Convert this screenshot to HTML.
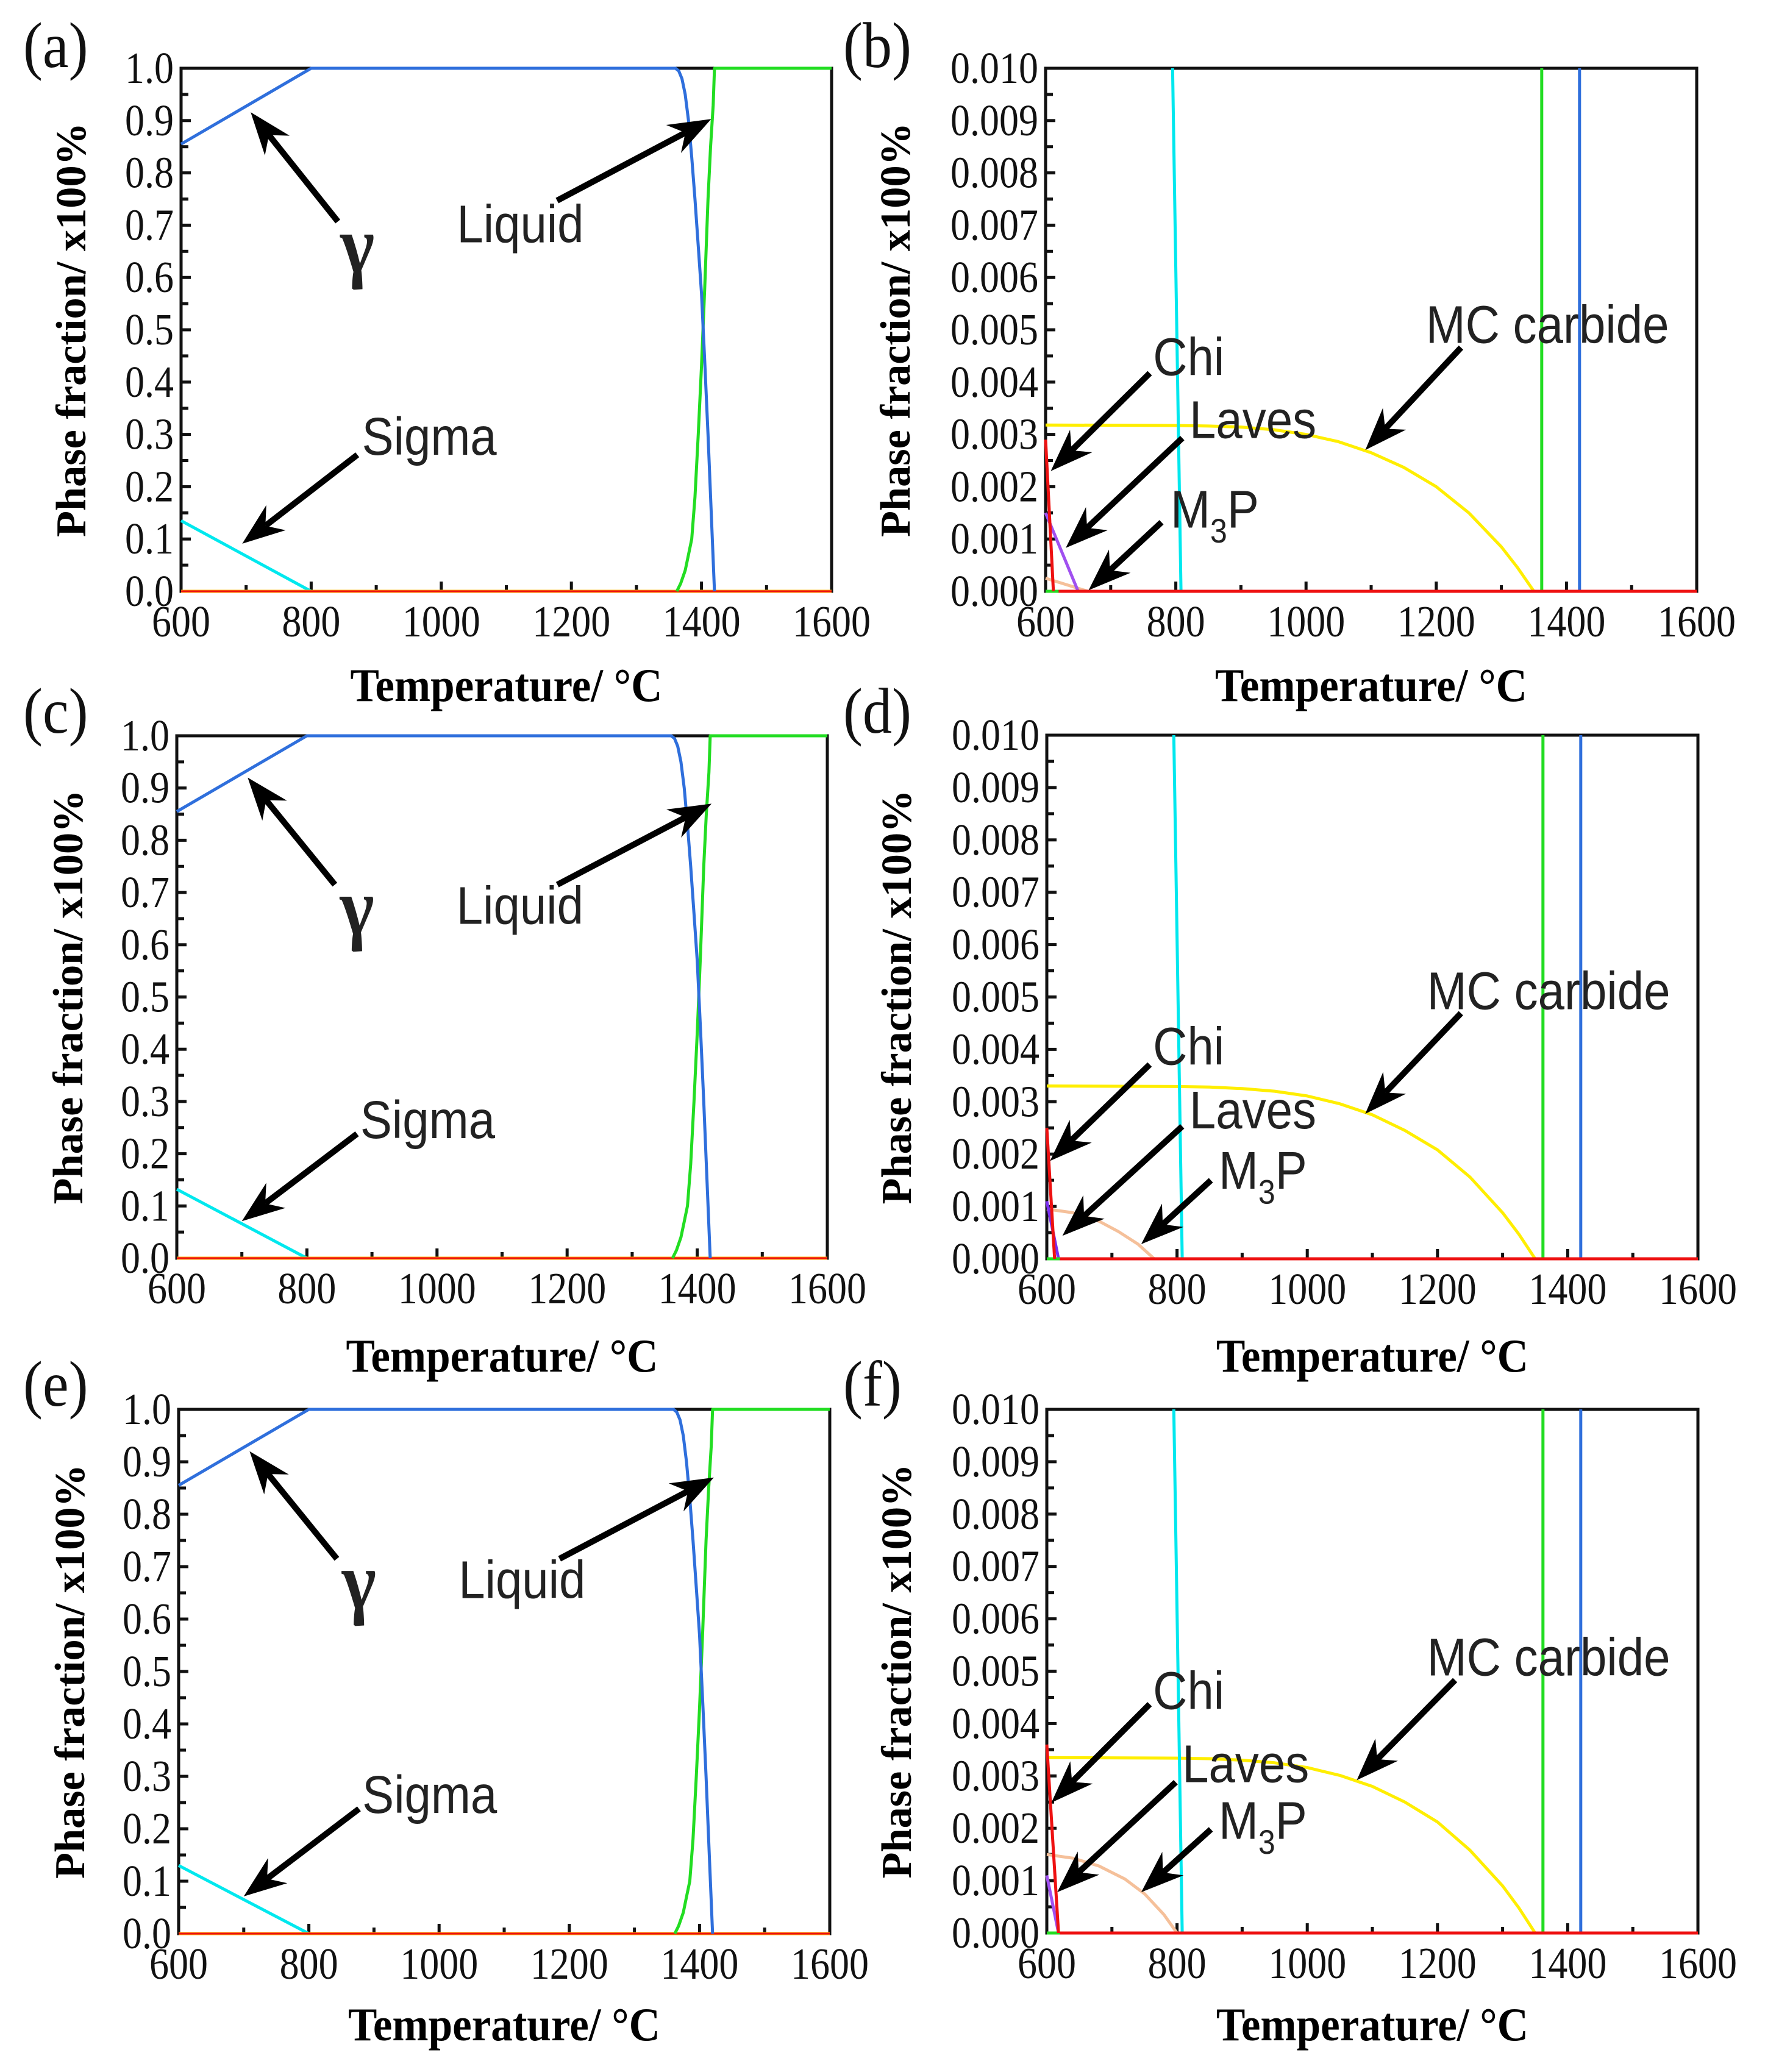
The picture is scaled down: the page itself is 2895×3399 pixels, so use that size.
<!DOCTYPE html>
<html><head><meta charset="utf-8">
<style>
html,body{margin:0;padding:0;background:#fff;}
svg{display:block;}
.tick{font-family:"Liberation Serif",serif;font-size:64px;fill:#111;}
.title{font-family:"Liberation Serif",serif;font-size:70px;font-weight:bold;fill:#000;}
.plabel{font-family:"Liberation Serif",serif;font-size:96px;fill:#111;}
.ann{font-family:"Liberation Sans",sans-serif;font-size:78px;fill:#222;}
.gam{font-family:"Liberation Serif",serif;font-size:120px;font-weight:bold;fill:#222;}
.sub{font-family:"Liberation Sans",sans-serif;font-size:50px;fill:#222;}
</style></head>
<body>
<svg id="fig" width="2895" height="3399" viewBox="0 0 2895 3399" xmlns="http://www.w3.org/2000/svg"></svg>
<script>
// ---- shared data ----
const xTicks = [600, 800, 1000, 1200, 1400, 1600];
const yTicksMajor = [0.0,0.1,0.2,0.3,0.4,0.5,0.6,0.7,0.8,0.9,1.0];
const yTickLabelsMajor = ["0.0","0.1","0.2","0.3","0.4","0.5","0.6","0.7","0.8","0.9","1.0"];
const yTicksMinor = [0,0.001,0.002,0.003,0.004,0.005,0.006,0.007,0.008,0.009,0.010];
const yTickLabelsMinor = ["0.000","0.001","0.002","0.003","0.004","0.005","0.006","0.007","0.008","0.009","0.010"];

// ---- panel a/c/e (major phases) ----
const gammaT = [600, 800, 1360, 1365, 1370, 1375, 1380, 1385, 1390, 1395, 1400, 1405, 1410, 1415, 1420];
const gammaV = [0.855, 1.0, 1.0, 0.995, 0.98, 0.95, 0.9, 0.83, 0.75, 0.66, 0.57, 0.44, 0.3, 0.15, 0.0];
const liquidT = [1362, 1368, 1375, 1380, 1385, 1390, 1395, 1400, 1405, 1410, 1414, 1418, 1420, 1600];
const liquidV = [0.0, 0.015, 0.04, 0.07, 0.1, 0.18, 0.3, 0.43, 0.58, 0.75, 0.85, 0.93, 1.0, 1.0];
const sigmaT = [600, 800];
const sigmaVa = [0.135, 0.0];
const sigmaVc = [0.132, 0.0];
const sigmaVe = [0.130, 0.0];
const zeroT = [600, 1600];
const zeroV = [0.0, 0.0];

// ---- panel b/d/f (minor phases) ----
const cyanT = [795, 808];
const cyanV = [0.010, 0.0];
const liqVertT = [1362, 1362];
const liqVertV = [0.010, 0.0];
const gamVertT = [1420, 1420];
const gamVertV = [0.010, 0.0];
const mcT = [600, 800, 850, 900, 950, 1000, 1050, 1100, 1150, 1200, 1250, 1300, 1325, 1350];
const mcVb = [0.00318, 0.00317, 0.00316, 0.00314, 0.00309, 0.00300, 0.00286, 0.00265, 0.00237, 0.00200, 0.00150, 0.00085, 0.00045, 0.0];
const mcVd = [0.00330, 0.00329, 0.00328, 0.00325, 0.00320, 0.00311, 0.00296, 0.00275, 0.00245, 0.00208, 0.00156, 0.00088, 0.00047, 0.0];
const mcVf = [0.00335, 0.00334, 0.00333, 0.00330, 0.00325, 0.00316, 0.00301, 0.00280, 0.00250, 0.00212, 0.00158, 0.00090, 0.00048, 0.0];
const chiTb = [600, 612]; const chiVb = [0.0029, 0.0];
const chiTd = [600, 612]; const chiVd = [0.0025, 0.0];
const chiTf = [600, 618]; const chiVf = [0.0036, 0.0];
const lavesTb = [600, 650]; const lavesVb = [0.0015, 0.0];
const lavesTd = [600, 618]; const lavesVd = [0.0011, 0.0];
const lavesTf = [600, 618]; const lavesVf = [0.0011, 0.0];
const m3pTb = [600, 665]; const m3pVb = [0.00025, 0.0];
const m3pTd = [600, 640, 680, 710, 740, 765]; const m3pVd = [0.00095, 0.00088, 0.00072, 0.00052, 0.00028, 0.0];
const m3pTf = [600, 640, 680, 720, 750, 780, 800]; const m3pVf = [0.0015, 0.00143, 0.00128, 0.00103, 0.00075, 0.00035, 0.0];

const NS = "http://www.w3.org/2000/svg";
const svg = document.getElementById('fig');
function mk(tag, attrs, parent){ const e=document.createElementNS(NS,tag); for(const k in attrs) e.setAttribute(k,attrs[k]); (parent||svg).appendChild(e); return e; }
function stext(parent, x, y, sy, cls, anchor){
  return mk('text',{x:0,y:0,class:cls,'text-anchor':anchor||'start',transform:'translate('+x+' '+y+') scale(1 '+sy+')'},parent);
}

function panel(p){
  const g = mk('g',{});
  
  
  const X = t => p.L + (t-600)/1000*(p.R-p.L);
  const Y = v => p.B - v/p.ymax*(p.B-p.T);
  const fr = mk('rect',{x:p.L,y:p.T,width:p.R-p.L,height:p.B-p.T,fill:'none',stroke:'#111','stroke-width':5},g);
  
  
  for(let t=600;t<=1600;t+=100){
    const len = (t%200===0)?16:10;
    mk('line',{x1:X(t),x2:X(t),y1:p.B,y2:p.B-len,stroke:'#111','stroke-width':5},g);
  }
  const yt = p.ymax===1 ? yTicksMajor : yTicksMinor;
  const yl = p.ymax===1 ? yTickLabelsMajor : yTickLabelsMinor;
  const step = yt[1]-yt[0];
  for(let i=0;i<yt.length*2-1;i++){
    const v = i*step/2;
    mk('line',{x1:p.L,x2:p.L+(i%2?12:16),y1:Y(v),y2:Y(v),stroke:'#111','stroke-width':5},g);
  }
  p.series.forEach(s=>{
    const pts = s.t.map((t,i)=>X(t).toFixed(1)+','+Y(s.v[i]).toFixed(1)).join(' ');
    const pl = mk('polyline',{points:pts,fill:'none',stroke:s.c,'stroke-width':s.w||5,'stroke-linejoin':'round'},g);
    
    
  });
  xTicks.forEach(t=>{
    const tx = stext(g, X(t), p.B+74, 1.15, 'tick', 'middle');
    tx.textContent = t;
    
    
  });
  yt.forEach((v,i)=>{
    const tx = stext(g, p.L-12, Y(v)+24, 1.15, 'tick', 'end');
    tx.textContent = yl[i];
    
    
  });
  const xt = stext(g, (p.L+p.R)/2, p.xtY, 1.1, 'title', 'middle');
  xt.setAttribute('textLength', 512);
  xt.setAttribute('lengthAdjust', 'spacingAndGlyphs');
  xt.textContent = 'Temperature/ \u00B0C';
  
  
  const cy=(p.T+p.B)/2;
  const ytl = mk('text',{x:0,y:0,'text-anchor':'middle',class:'title',textLength:680,lengthAdjust:'spacingAndGlyphs',
     transform:'translate('+p.ytX+' '+cy+') rotate(-90)'},g);
  ytl.textContent = 'Phase fraction/ x100%';
  
  
  const pl = stext(g, p.plX, p.plY, 1.1, 'plabel');
  pl.textContent = '('+p.id+')';
  
  
  p.ann.forEach(a=>{
    const x1=X(a.t1),y1=Y(a.v1),x2=X(a.t2),y2=Y(a.v2);
    const dx=x2-x1,dy=y2-y1,d=Math.hypot(dx,dy),ux=dx/d,uy=dy/d,nx=-uy,ny=ux;
    const hl=70,hw=26,notch=22;
    const bx=x2-ux*hl,by=y2-uy*hl;
    const ag = mk('g',{},g);
    
    
    mk('line',{x1:x1,y1:y1,x2:x2-ux*(hl-notch),y2:y2-uy*(hl-notch),stroke:'#000','stroke-width':10},ag);
    const pts=[[x2,y2],[bx+nx*hw,by+ny*hw],[x2-ux*(hl-notch),y2-uy*(hl-notch)],[bx-nx*hw,by-ny*hw]];
    mk('polygon',{points:pts.map(q=>q[0].toFixed(1)+','+q[1].toFixed(1)).join(' '),fill:'#000'},ag);
    const lt = stext(g, X(a.lt), Y(a.lv), 1.12, a.cls||'ann', a.anchor||'start');
    
    
    if(a.sub){
      lt.appendChild(document.createTextNode('M'));
      const ts=mk('tspan',{class:'sub',dy:22},lt); ts.textContent='3';
      const tp=mk('tspan',{dy:-22},lt); tp.textContent='P';
    } else lt.textContent=a.text;
  });
}

const BLUE='#2f6fdc', GREEN='#22dd22', CYAN='#00e8ee', YEL='#ffee00', RED='#ee1111', PUR='#a050f0', PEACH='#f5c09a';
function majorSeries(sv){
  return [
    {name:'sigma-line',t:sigmaT,v:sv,c:CYAN},
    {name:'zero-orange-line',t:zeroT,v:zeroV,c:'#ffaa00'},
    {name:'zero-red-line',t:zeroT,v:zeroV,c:RED,w:3},
    {name:'liquid-line',t:liquidT,v:liquidV,c:GREEN},
    {name:'gamma-line',t:gammaT,v:gammaV,c:BLUE},
  ];
}
function minorSeries(mc,cT,cV,lT,lV,mT,mV,lavC){
  return [
    {name:'m3p-line',t:mT,v:mV,c:PEACH},
    {name:'mc-carbide-line',t:mcT,v:mc,c:YEL},
    {name:'sigma-line',t:cyanT,v:cyanV,c:CYAN},
    {name:'liquid-line',t:liqVertT,v:liqVertV,c:GREEN},
    {name:'gamma-line',t:gamVertT,v:gamVertV,c:BLUE},
    {name:'laves-line',t:lT,v:lV,c:lavC},
    {name:'zero-green-line',t:[600,620],v:zeroV,c:GREEN},
    {name:'chi-line',t:cT,v:cV,c:RED},
    {name:'zero-red-line',t:[620,1600],v:zeroV,c:RED},
  ];
}
const annMajor1=[
  {name:'gamma',t1:841,v1:0.707,t2:707,v2:0.916,lt:871,lv:0.61,text:'\u03B3',anchor:'middle',cls:'gam'},
  {name:'liquid',t1:1178,v1:0.747,t2:1415,v2:0.903,lt:1024,lv:0.667,text:'Liquid'},
  {name:'sigma',t1:871,v1:0.261,t2:694,v2:0.091,lt:878,lv:0.261,text:'Sigma'},
];
const annMajor2=[
  {name:'gamma',t1:843,v1:0.715,t2:709,v2:0.92,lt:877,lv:0.62,text:'\u03B3',anchor:'middle',cls:'gam'},
  {name:'liquid',t1:1185,v1:0.715,t2:1422,v2:0.87,lt:1030,lv:0.64,text:'Liquid'},
  {name:'sigma',t1:877,v1:0.238,t2:700,v2:0.071,lt:882,lv:0.23,text:'Sigma'},
];
panel({id:'a',L:297,R:1364,T:112,B:970,ymax:1,xtY:1150,ytX:140,plX:38,plY:110,series:majorSeries(sigmaVa),ann:annMajor1});
panel({id:'c',L:290,R:1357,T:1207,B:2064,ymax:1,xtY:2250,ytX:135,plX:38,plY:1202,series:majorSeries(sigmaVc),ann:annMajor2});
panel({id:'e',L:293,R:1361,T:2312,B:3172,ymax:1,xtY:3347,ytX:138,plX:38,plY:2306,series:majorSeries(sigmaVe),ann:annMajor2});
panel({id:'b',L:1715,R:2783,T:112,B:970,ymax:0.01,xtY:1150,ytX:1492,plX:1383,plY:110,
  series:minorSeries(mcVb,chiTb,chiVb,lavesTb,lavesVb,m3pTb,m3pVb,PUR),
  ann:[
    {name:'chi',t1:760,v1:0.00417,t2:608,v2:0.0023,lt:765,lv:0.00413,text:'Chi'},
    {name:'laves',t1:810,v1:0.00293,t2:631,v2:0.00083,lt:821,lv:0.00293,text:'Laves'},
    {name:'m3p',t1:778,v1:0.00132,t2:666,v2:0.00002,lt:792,lv:0.00122,sub:true},
    {name:'mc-carbide',t1:1238,v1:0.00466,t2:1091,v2:0.0027,lt:1184,lv:0.00475,text:'MC carbide'},
  ]});
panel({id:'d',L:1717,R:2785,T:1206,B:2065,ymax:0.01,xtY:2250,ytX:1494,plX:1383,plY:1202,
  series:minorSeries(mcVd,chiTd,chiVd,lavesTd,lavesVd,m3pTd,m3pVd,'#7a2ef0'),
  ann:[
    {name:'chi',t1:758,v1:0.00371,t2:605,v2:0.00187,lt:763,lv:0.00371,text:'Chi'},
    {name:'laves',t1:808,v1:0.00253,t2:624,v2:0.00044,lt:819,lv:0.00249,text:'Laves'},
    {name:'m3p',t1:852,v1:0.0015,t2:745,v2:0.00028,lt:864,lv:0.00134,sub:true},
    {name:'mc-carbide',t1:1236,v1:0.00469,t2:1089,v2:0.00277,lt:1184,lv:0.00477,text:'MC carbide'},
  ]});
panel({id:'f',L:1717,R:2785,T:2312,B:3171,ymax:0.01,xtY:3347,ytX:1494,plX:1383,plY:2306,
  series:minorSeries(mcVf,chiTf,chiVf,lavesTf,lavesVf,m3pTf,m3pVf,PUR),
  ann:[
    {name:'chi',t1:758,v1:0.00437,t2:607,v2:0.00249,lt:763,lv:0.00428,text:'Chi'},
    {name:'laves',t1:798,v1:0.00288,t2:616,v2:0.00078,lt:808,lv:0.00288,text:'Laves'},
    {name:'m3p',t1:852,v1:0.00198,t2:745,v2:0.00078,lt:864,lv:0.0018,sub:true},
    {name:'mc-carbide',t1:1227,v1:0.00483,t2:1076,v2:0.00292,lt:1184,lv:0.00492,text:'MC carbide'},
  ]});
</script>
</body></html>
